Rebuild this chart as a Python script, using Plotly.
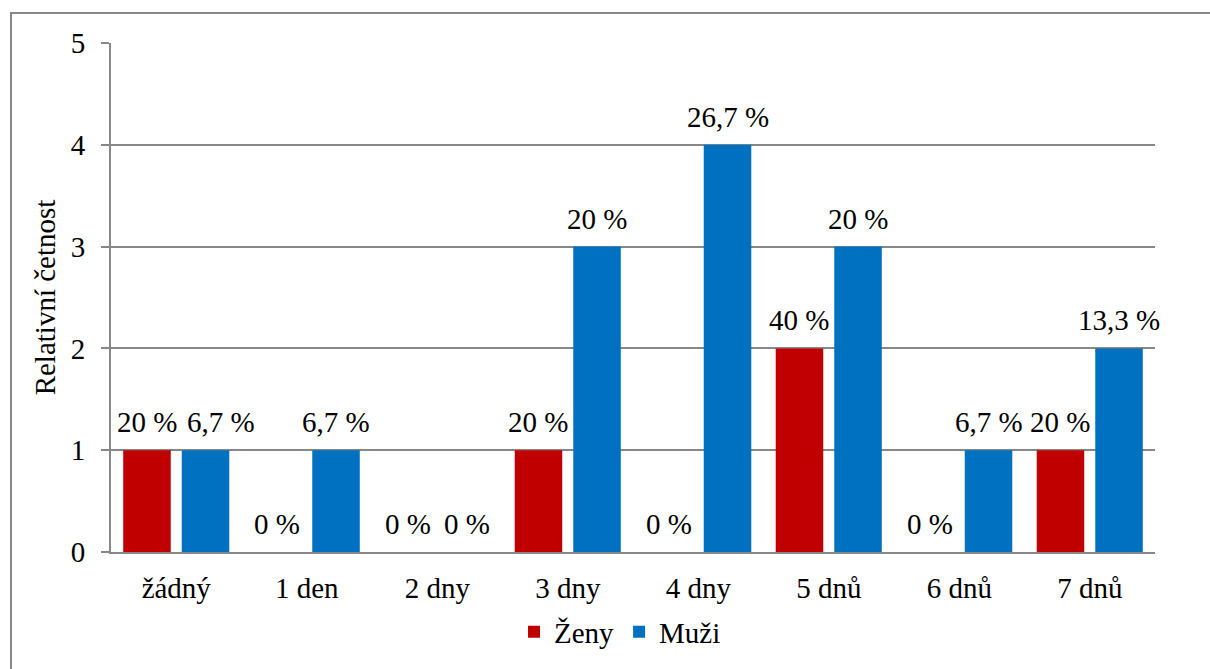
import plotly.graph_objects as go

# Počet dnů v týdnu a relativní četnosti
categories = ["žádný", "1 den", "2 dny", "3 dny", "4 dny", "5 dnů", "6 dnů", "7 dnů"]
zeny = [1, 0, 0, 1, 0, 2, 0, 1]
muzi = [1, 1, 0, 3, 4, 3, 1, 2]
zeny_labels = ["20 %", "0 %", "0 %", "20 %", "0 %", "40 %", "0 %", "20 %"]
muzi_labels = ["6,7 %", "6,7 %", "0 %", "20 %", "26,7 %", "20 %", "6,7 %", "13,3 %"]
y_ticks = [0, 1, 2, 3, 4, 5]

FONT = "Liberation Serif"
GRID = "#878787"
FS = 29
BARGAP, GROUPGAP = 0.103, 0.188

# pixel geometry of the plot area
W, H = 1210, 669
ML, MR, MT, MB = 111, 55, 43, 117
PW, PH = W - ML - MR, H - MT - MB


def px_x(px):
    return (px - ML) / PW


def px_y(py):
    return (H - MB - py) / PH


fig = go.Figure()
fig.add_trace(go.Bar(
    name="Ženy", x=categories, y=zeny, hovertext=zeny_labels,
    marker=dict(color="#C00000", line=dict(width=0)),
))
fig.add_trace(go.Bar(
    name="Muži", x=categories, y=muzi, hovertext=muzi_labels,
    marker=dict(color="#0070C0", line=dict(width=0)),
))

# value labels above each bar; the bar centre sits half a slot from the category centre
slot_px = PW / len(categories) * (1 - BARGAP) / 2
annotations = []
for i, cat in enumerate(categories):
    for vals, labels, side in ((zeny, zeny_labels, -1), (muzi, muzi_labels, 1)):
        nudge = 15 if (i == 0 and side == 1) else 0  # keep neighbours from overlapping
        annotations.append(dict(
            x=cat, y=vals[i], xref="x", yref="y", text=labels[i],
            xshift=side * slot_px / 2 + nudge, yshift=10,
            xanchor="center", yanchor="bottom", showarrow=False,
            font=dict(family=FONT, size=FS, color="black"),
        ))

fig.update_layout(
    width=W, height=H,
    margin=dict(l=ML, r=MR, t=MT, b=MB, pad=0, autoexpand=False),
    paper_bgcolor="white", plot_bgcolor="white",
    font=dict(family=FONT, size=FS, color="black"),
    barmode="group", bargap=BARGAP, bargroupgap=GROUPGAP,
    showlegend=True,
    legend=dict(
        orientation="h", x=px_x(620), xanchor="center",
        y=px_y(632), yanchor="middle",
        font=dict(family=FONT, size=FS, color="black"),
        itemwidth=30, traceorder="normal",
    ),
    xaxis=dict(
        range=[-0.5, len(categories) - 0.5],
        showline=True, linecolor=GRID, linewidth=2,
        showgrid=False, ticks="", ticklabelstandoff=9,
        tickfont=dict(family=FONT, size=FS, color="black"),
        fixedrange=True, automargin=False,
    ),
    yaxis=dict(
        range=[0, 5], tickvals=y_ticks,
        showline=True, linecolor=GRID, linewidth=2,
        showgrid=True, gridcolor=GRID, gridwidth=1.5,
        ticks="outside", ticklen=8, tickcolor=GRID, tickwidth=1.5,
        ticklabelstandoff=10,
        tickfont=dict(family=FONT, size=FS, color="black"),
        title=dict(text="Relativní četnost", standoff=7,
                   font=dict(family=FONT, size=FS, color="black")),
        zeroline=False, fixedrange=True, automargin=False,
    ),
    annotations=annotations,
    shapes=[dict(
        type="rect", xref="paper", yref="paper",
        x0=px_x(11), x1=px_x(1220), y0=px_y(680), y1=px_y(13),
        line=dict(color=GRID, width=2), fillcolor="rgba(0,0,0,0)",
        layer="below",
    )],
)

fig.write_html("out.html")
